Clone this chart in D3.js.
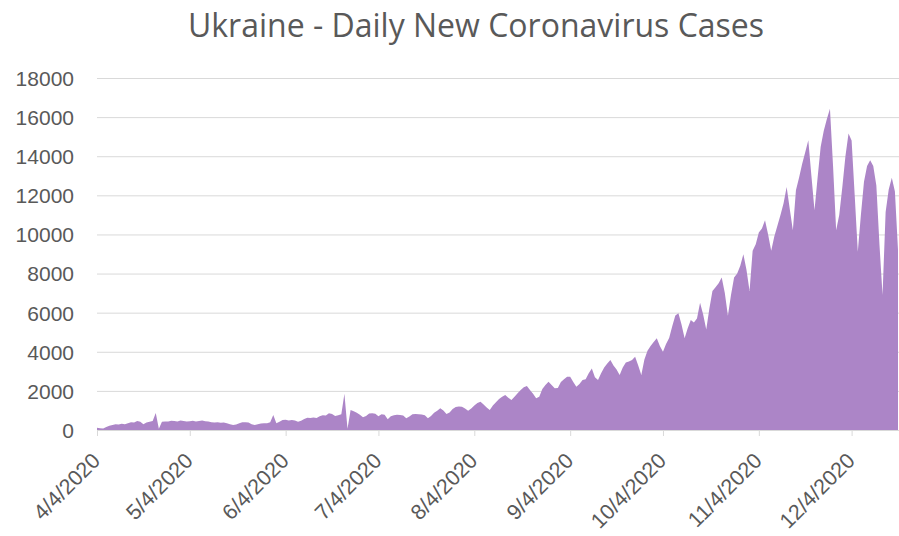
<!DOCTYPE html>
<html>
<head>
<meta charset="utf-8">
<script src="https://cdn.jsdelivr.net/npm/d3@7"></script>
<style>
  body { margin: 0; background: #fff; }
  svg { font-family: "Open Sans", sans-serif; }
  .grid line { stroke: #d9d9d9; stroke-width: 1; }
  .grid path { display: none; }
  .ylab text { fill: #595959; font-size: 21px; }
  .xaxis text { fill: #595959; font-size: 21.5px; }
  .xaxis path, .xaxis line { stroke: #d9d9d9; }
  .title { fill: #595959; font-size: 32px; }
</style>
</head>
<body>
<svg width="899" height="536"></svg>
<script>
// Daily new cases, one array per calendar month (starting 4/4/2020)
const april = [120, 90, 80, 150, 220, 260, 290, 280, 320, 300,
  340, 400, 380, 460, 420, 300, 380, 420, 460, 870,
  60, 420, 440, 430, 470, 460, 430];
const may = [480, 460, 440, 450, 470, 440, 460, 480, 450, 430,
  400, 380, 390, 370, 380, 340, 300, 260, 280, 350,
  390, 400, 380, 300, 260, 300, 330, 350, 340, 400, 770];
const june = [340, 420, 510, 520, 490, 510, 480, 420, 470, 560,
  630, 610, 640, 620, 700, 760, 740, 860, 820, 720,
  750, 800, 1850, 60, 1020, 960, 880, 780, 650, 720];
const july = [850, 860, 830, 700, 800, 780, 550, 700, 760, 780,
  770, 740, 600, 690, 800, 820, 810, 790, 760, 600,
  720, 880, 990, 1110, 1000, 820, 900, 1070, 1180, 1200, 1190];
const august = [1100, 990, 1100, 1250, 1380, 1450, 1300, 1150, 1020, 1250,
  1420, 1580, 1700, 1790, 1650, 1530, 1700, 1880, 2050, 2180,
  2250, 2040, 1850, 1620, 1700, 2100, 2300, 2470, 2300, 2130, 2150];
const september = [2450, 2600, 2720, 2720, 2450, 2215, 2350, 2560, 2600, 2900,
  3150, 2700, 2560, 2900, 3200, 3400, 3580, 3300, 3100, 2810,
  3200, 3450, 3500, 3580, 3750, 3300, 2810, 3600, 4050, 4300];
const october = [4500, 4690, 4300, 4000, 4400, 4700, 5300, 5850, 5970, 5400,
  4690, 5200, 5620, 5500, 5700, 6510, 5900, 5140, 6200, 7110,
  7300, 7500, 7800, 7000, 5840, 6900, 7800, 8000, 8400, 8990, 8200];
const november = [7110, 9170, 9500, 10100, 10300, 10730, 10000, 9170, 9900, 10450,
  11000, 11600, 12430, 11300, 10220, 12260, 12900, 13600, 14200, 14820,
  13000, 11240, 12900, 14480, 15300, 15900, 16430, 13500, 10220, 11000];
const december = [12430, 14000, 15160, 14800, 12000, 9120, 11000, 12690, 13500, 13800,
  13500, 12500, 9500, 6900, 11150, 12300, 12900, 12200, 9200];

const startDate = new Date(2020, 3, 4);
const tickDates = ["2020-04-04", "2020-05-04", "2020-06-04", "2020-07-04", "2020-08-04",
  "2020-09-04", "2020-10-04", "2020-11-04", "2020-12-04"];
const yTicks = [0, 2000, 4000, 6000, 8000, 10000, 12000, 14000, 16000, 18000];

const values = [].concat(april, may, june, july, august, september, october, november, december);
const data = values.map((v, i) => ({ date: d3.timeDay.offset(startDate, i), value: v }));

const plotLeft = 97, plotRight = 898, plotTop = 78, plotBottom = 430;

const svg = d3.select("svg");

const xScale = d3.scaleTime()
  .domain(d3.extent(data, d => d.date))
  .range([plotLeft, plotRight]);

const yScale = d3.scaleLinear()
  .domain([0, 18000])
  .range([plotBottom, plotTop]);

// Grid lines - horizontal
svg.append("g")
  .attr("class", "grid")
  .attr("transform", `translate(${plotLeft}, 0)`)
  .call(d3.axisLeft(yScale).tickValues(yTicks).tickSize(-(plotRight - plotLeft + 1)).tickFormat(""));

// Area
svg.append("path")
  .datum(data)
  .attr("fill", "#ac85c7")
  .attr("d", d3.area()
    .x(d => xScale(d.date))
    .y0(yScale(0))
    .y1(d => yScale(d.value)));

// Y labels
svg.append("g")
  .attr("class", "ylab")
  .attr("transform", `translate(${plotLeft - 23}, 0)`)
  .call(d3.axisLeft(yScale).tickValues(yTicks).tickSize(0).tickPadding(0).tickFormat(d3.format("d")))
  .call(g => g.select(".domain").remove())
  .selectAll("text")
  .attr("dy", "0.35em");

// X axis
const fmt = d3.timeFormat("%-m/%-d/%Y");
svg.append("g")
  .attr("class", "xaxis")
  .attr("transform", `translate(0, ${plotBottom})`)
  .call(d3.axisBottom(xScale)
    .tickValues(tickDates.map(s => d3.timeParse("%Y-%m-%d")(s)))
    .tickSize(6)
    .tickSizeOuter(0)
    .tickFormat(fmt))
  .call(g => g.select(".domain").attr("d", `M${plotLeft},0.5H${plotRight + 1}`))
  .selectAll("text")
  .attr("text-anchor", "end")
  .attr("y", 0)
  .attr("dy", "0")
  .attr("transform", "translate(4, 32) rotate(-45)");

// Title
svg.append("text")
  .attr("class", "title")
  .attr("x", 476)
  .attr("y", 37)
  .attr("text-anchor", "middle")
  .text("Ukraine - Daily New Coronavirus Cases");
</script>
</body>
</html>
